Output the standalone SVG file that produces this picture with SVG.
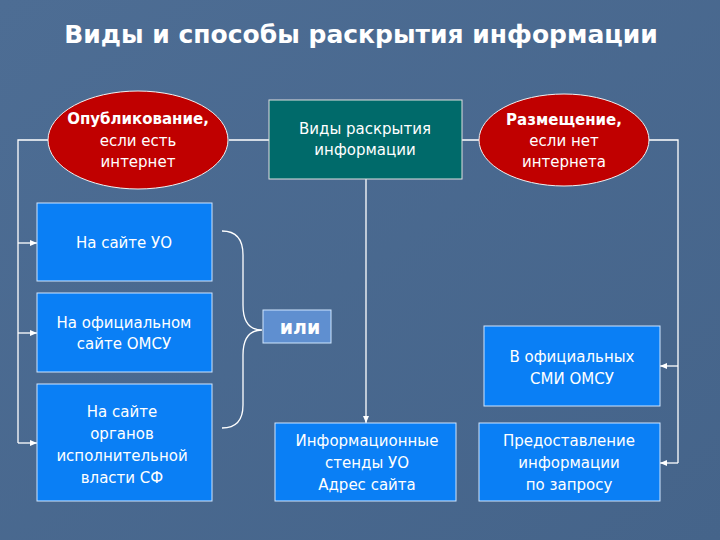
<svg xmlns="http://www.w3.org/2000/svg" width="720" height="540" viewBox="0 0 720 540">
<defs>
<linearGradient id="bg" x1="0" y1="0" x2="1" y2="1"><stop offset="0" stop-color="#4d6d94"/><stop offset="1" stop-color="#45648a"/></linearGradient>
<marker id="ar" markerWidth="8" markerHeight="8" refX="7" refY="4" orient="auto" markerUnits="userSpaceOnUse"><path d="M0,1 L7,4 L0,7 Z" fill="#fff"/></marker>
</defs>
<style>
text{font-family:Verdana,"DejaVu Sans",sans-serif;fill:#fff;text-anchor:middle}
.t{font-size:15px}
.b{font-weight:bold}
.box{fill:#0a7ff5;stroke:#cfe6ff;stroke-width:1}
.ell{fill:#c00000;stroke:#f0f0f0;stroke-width:1}
.ln{stroke:#fff;stroke-width:1.3;fill:none}
</style>
<rect width="720" height="540" fill="url(#bg)"/>
<text x="361" y="43" class="b" style="font-size:25px;font-family:'DejaVu Sans',sans-serif">Виды и способы раскрытия информации</text>
<g id="connectors">
<path class="ln" d="M229,140 H269 M462,140 H479"/>
<path class="ln" d="M48,140 H18 V443"/>
<path class="ln" d="M18,243 H37" marker-end="url(#ar)"/>
<path class="ln" d="M18,333 H37" marker-end="url(#ar)"/>
<path class="ln" d="M18,443 H37" marker-end="url(#ar)"/>
<path class="ln" d="M366,179 V423" marker-end="url(#ar)"/>
<path class="ln" d="M649,140 H678 V463"/>
<path class="ln" d="M678,366 H660" marker-end="url(#ar)"/>
<path class="ln" d="M678,463 H660" marker-end="url(#ar)"/>
<path class="ln" d="M222,231 Q243,231 243,255 V305 Q243,330 262,330 Q243,330 243,355 V405 Q243,428 222,428"/>
</g>
<g id="n-publ"><ellipse class="ell" cx="138" cy="140" rx="90" ry="49"/>
<text x="138" y="124" class="t b">Опубликование,</text><text x="138" y="146" class="t">если есть</text><text x="138" y="167" class="t">интернет</text></g>
<g id="n-vidy"><rect x="269" y="100" width="193" height="79" fill="#006a6a" stroke="#e0e0e0"/>
<text x="365" y="134" class="t">Виды раскрытия</text><text x="365" y="155" class="t">информации</text></g>
<g id="n-razm"><ellipse class="ell" cx="564" cy="140" rx="85" ry="46"/>
<text x="564" y="125" class="t b">Размещение,</text><text x="564" y="146" class="t">если нет</text><text x="564" y="167" class="t">интернета</text></g>
<g id="n-uo"><rect class="box" x="37" y="203" width="175" height="78"/><text x="124" y="248" class="t">На сайте УО</text></g>
<g id="n-omsu"><rect class="box" x="37" y="293" width="175" height="79"/><text x="124" y="328" class="t">На официальном</text><text x="124" y="349" class="t">сайте ОМСУ</text></g>
<g id="n-sf"><rect class="box" x="37" y="384" width="175" height="117"/><text x="122" y="417" class="t">На сайте</text><text x="122" y="439" class="t">органов</text><text x="122" y="461" class="t">исполнительной</text><text x="122" y="483" class="t">власти СФ</text></g>
<g id="n-ili"><rect x="263" y="310" width="68" height="33" fill="#5f8fd0" stroke="#cfe6ff"/><text x="300" y="334" class="b" style="font-size:19px">или</text></g>
<g id="n-stend"><rect class="box" x="275" y="423" width="181" height="78"/><text x="367" y="446" class="t">Информационные</text><text x="367" y="468" class="t">стенды УО</text><text x="367" y="490" class="t">Адрес сайта</text></g>
<g id="n-smi"><rect class="box" x="484" y="326" width="176" height="80"/><text x="572" y="362" class="t">В официальных</text><text x="572" y="384" class="t">СМИ ОМСУ</text></g>
<g id="n-zapros"><rect class="box" x="479" y="423" width="181" height="78"/><text x="569" y="446" class="t">Предоставление</text><text x="569" y="468" class="t">информации</text><text x="569" y="490" class="t">по запросу</text></g>
</svg>
